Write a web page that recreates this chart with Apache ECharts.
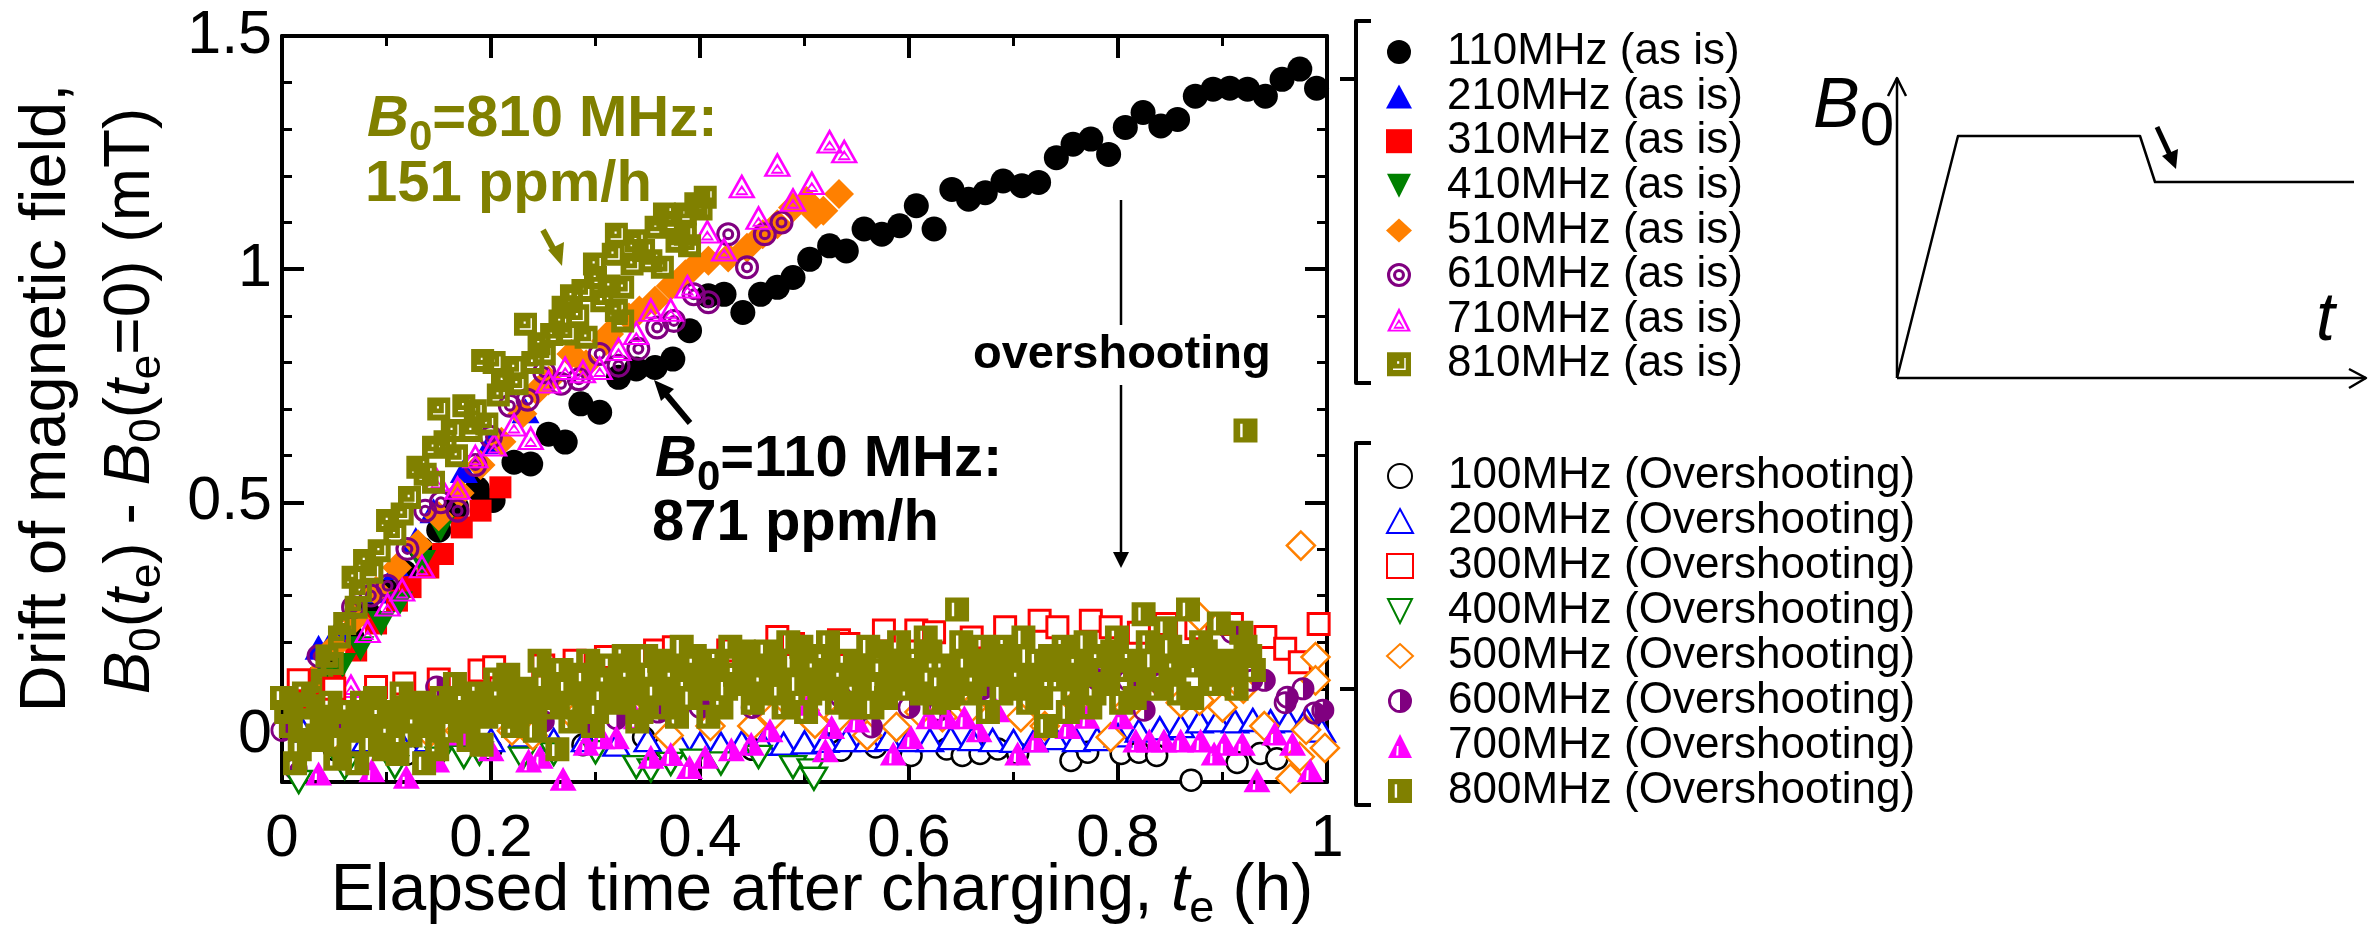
<!DOCTYPE html>
<html>
<head>
<meta charset="utf-8">
<script src="https://cdn.jsdelivr.net/npm/echarts@6/dist/echarts.min.js"></script>
<style>
html,body{margin:0;padding:0;background:#fff;}
#chart{width:2377px;height:932px;}
</style>
</head>
<body>
<div id="chart"></div>
<script>
// ---- tick labels ----
const xTicks = [0, 0.2, 0.4, 0.6, 0.8, 1];
const yTicks = [0, 0.5, 1, 1.5];

// ---- series names ----
const asIsNames = ['110MHz (as is)','210MHz (as is)','310MHz (as is)','410MHz (as is)','510MHz (as is)','610MHz (as is)','710MHz (as is)','810MHz (as is)'];
const overNames = ['100MHz (Overshooting)','200MHz (Overshooting)','300MHz (Overshooting)','400MHz (Overshooting)','500MHz (Overshooting)','600MHz (Overshooting)','700MHz (Overshooting)','800MHz (Overshooting)'];

// ---- drift after charging "as is": [t_e (h), B0(te)-B0(0) (mT)] ----
const asIs110 = [[0.017,0.06],[0.033,0.11],[0.05,0.16],[0.067,0.21],[0.083,0.26],[0.1,0.31],[0.117,0.35],[0.133,0.4],[0.15,0.44],[0.167,0.49],[0.187,0.529],[0.202,0.504],[0.222,0.586],[0.238,0.582],[0.255,0.646],[0.271,0.629],[0.286,0.711],[0.304,0.693],[0.322,0.768],[0.339,0.786],[0.357,0.789],[0.374,0.807],[0.39,0.868],[0.408,0.943],[0.423,0.946],[0.441,0.907],[0.458,0.946],[0.474,0.961],[0.489,0.982],[0.505,1.021],[0.524,1.05],[0.54,1.039],[0.557,1.086],[0.574,1.075],[0.591,1.093],[0.607,1.136],[0.624,1.086],[0.641,1.171],[0.657,1.15],[0.673,1.164],[0.69,1.189],[0.708,1.179],[0.724,1.186],[0.741,1.239],[0.757,1.268],[0.774,1.279],[0.791,1.246],[0.807,1.304],[0.824,1.336],[0.841,1.307],[0.857,1.321],[0.874,1.371],[0.891,1.386],[0.907,1.388],[0.924,1.386],[0.941,1.371],[0.957,1.407],[0.974,1.429],[0.99,1.388]];
const asIs210 = [[0.02,0.1],[0.035,0.189],[0.053,0.225],[0.07,0.27],[0.09,0.31],[0.11,0.36],[0.128,0.42],[0.145,0.482],[0.174,0.568],[0.2,0.63],[0.233,0.696]];
const asIs310 = [[0.03,0.08],[0.05,0.13],[0.071,0.182],[0.09,0.24],[0.11,0.289],[0.123,0.318],[0.14,0.36],[0.154,0.389],[0.172,0.446],[0.19,0.482],[0.209,0.532]];
const asIs410 = [[0.04,0.12],[0.058,0.15],[0.075,0.186],[0.095,0.24],[0.112,0.282],[0.134,0.371],[0.152,0.443]];
const asIs510 = [[0.03,0.12],[0.05,0.19],[0.07,0.25],[0.09,0.31],[0.11,0.36],[0.13,0.41],[0.15,0.47],[0.17,0.52],[0.19,0.58],[0.21,0.63],[0.23,0.69],[0.244,0.739],[0.255,0.761],[0.277,0.818],[0.291,0.796],[0.31,0.846],[0.313,0.861],[0.332,0.896],[0.342,0.911],[0.357,0.932],[0.372,0.964],[0.386,0.989],[0.394,1.004],[0.408,1.018],[0.427,1.025],[0.445,1.046],[0.46,1.075],[0.474,1.096],[0.489,1.132],[0.502,1.146],[0.511,1.118],[0.518,1.125],[0.533,1.161]];
const asIs610 = [[0.013,-0.071],[0.035,0.17],[0.068,0.275],[0.085,0.3],[0.101,0.321],[0.12,0.4],[0.137,0.482],[0.152,0.5],[0.168,0.482],[0.185,0.58],[0.2,0.64],[0.218,0.707],[0.235,0.72],[0.251,0.779],[0.267,0.754],[0.284,0.764],[0.304,0.818],[0.322,0.793],[0.341,0.829],[0.359,0.875],[0.375,0.889],[0.394,0.946],[0.408,0.929],[0.427,1.075],[0.445,1.004],[0.462,1.075],[0.478,1.1]];
const asIs710 = [[0.066,0.107],[0.082,0.225],[0.101,0.282],[0.115,0.314],[0.134,0.364],[0.148,0.55],[0.168,0.532],[0.185,0.6],[0.203,0.625],[0.222,0.668],[0.238,0.639],[0.255,0.76],[0.271,0.789],[0.288,0.782],[0.304,0.789],[0.322,0.83],[0.339,0.864],[0.353,0.914],[0.372,0.914],[0.388,0.964],[0.407,1.082],[0.423,1.043],[0.44,1.179],[0.456,1.111],[0.474,1.225],[0.489,1.15],[0.507,1.186],[0.524,1.275],[0.538,1.254]];
const asIs810 = [[0.004,-0.104],[0.02,0.07],[0.03,0.1],[0.038,0.118],[0.043,0.17],[0.048,0.154],[0.055,0.211],[0.06,0.24],[0.068,0.339],[0.071,0.275],[0.075,0.31],[0.079,0.375],[0.086,0.35],[0.093,0.396],[0.101,0.461],[0.108,0.432],[0.115,0.475],[0.122,0.51],[0.13,0.575],[0.137,0.56],[0.145,0.543],[0.145,0.618],[0.15,0.7],[0.156,0.63],[0.163,0.654],[0.167,0.6],[0.174,0.707],[0.181,0.654],[0.185,0.696],[0.192,0.804],[0.196,0.668],[0.203,0.8],[0.207,0.73],[0.211,0.761],[0.222,0.789],[0.225,0.754],[0.233,0.882],[0.24,0.8],[0.246,0.84],[0.251,0.818],[0.258,0.86],[0.266,0.889],[0.269,0.918],[0.273,0.861],[0.277,0.943],[0.283,0.9],[0.288,0.954],[0.291,0.854],[0.299,1.011],[0.3,0.982],[0.306,0.932],[0.313,0.964],[0.317,1.032],[0.32,1.075],[0.32,0.911],[0.326,0.961],[0.326,0.889],[0.335,1.011],[0.339,1.061],[0.346,1.04],[0.353,1.018],[0.358,1.09],[0.364,1.004],[0.366,1.118],[0.372,1.1],[0.378,1.06],[0.386,1.075],[0.386,1.118],[0.39,1.05],[0.396,1.14],[0.401,1.129],[0.405,1.154]];

// ---- drift after charging with overshooting ----
const over100 = [[0.05,-0.03],[0.12,-0.04],[0.2,-0.03],[0.288,-0.02],[0.346,-0.004],[0.366,-0.025],[0.45,-0.03],[0.526,-0.018],[0.535,-0.032],[0.568,-0.025],[0.602,-0.043],[0.636,-0.029],[0.651,-0.043],[0.668,-0.039],[0.685,-0.029],[0.704,-0.039],[0.755,-0.054],[0.771,-0.036],[0.803,-0.039],[0.82,-0.036],[0.837,-0.043],[0.87,-0.096],[0.914,-0.058],[0.936,-0.039],[0.952,-0.05]];
const over200 = [[0.02,0.01],[0.05,0.0],[0.08,-0.01],[0.11,0.0],[0.14,-0.01],[0.17,0.0],[0.2,-0.01],[0.23,0.0],[0.26,-0.01],[0.29,-0.01],[0.32,-0.02],[0.35,-0.01],[0.38,-0.018],[0.4,-0.018],[0.42,-0.018],[0.44,-0.015],[0.46,-0.018],[0.48,-0.018],[0.5,-0.015],[0.52,-0.012],[0.54,-0.01],[0.56,-0.01],[0.58,-0.008],[0.6,-0.01],[0.62,-0.01],[0.64,-0.006],[0.66,-0.008],[0.68,-0.01],[0.7,-0.012],[0.72,-0.01],[0.74,-0.006],[0.76,-0.01],[0.78,-0.008],[0.8,0.0],[0.82,0.01],[0.84,0.015],[0.86,0.02],[0.878,0.03],[0.895,0.032],[0.912,0.03],[0.929,0.033],[0.946,0.03],[0.963,0.032],[0.98,0.035],[0.995,0.01]];
const over300 = [[0.016,0.118],[0.05,0.1],[0.09,0.104],[0.117,0.111],[0.15,0.12],[0.189,0.139],[0.203,0.146],[0.25,0.15],[0.28,0.16],[0.31,0.168],[0.357,0.182],[0.375,0.189],[0.427,0.182],[0.474,0.211],[0.489,0.196],[0.533,0.204],[0.542,0.196],[0.576,0.225],[0.607,0.225],[0.624,0.221],[0.66,0.21],[0.692,0.232],[0.725,0.246],[0.742,0.232],[0.774,0.246],[0.793,0.232],[0.82,0.22],[0.846,0.239],[0.875,0.23],[0.909,0.239],[0.941,0.211],[0.96,0.186],[0.974,0.157],[0.992,0.239]];
const over400 = [[0.016,-0.1],[0.06,-0.07],[0.108,-0.068],[0.15,-0.05],[0.174,-0.046],[0.189,-0.039],[0.23,-0.05],[0.26,-0.04],[0.3,-0.036],[0.339,-0.068],[0.353,-0.075],[0.372,-0.061],[0.394,-0.054],[0.42,-0.06],[0.456,-0.046],[0.489,-0.068],[0.506,-0.075],[0.509,-0.093]];
const over500 = [[0.05,0.0],[0.141,0.004],[0.17,0.01],[0.22,0.01],[0.24,0.0],[0.28,0.039],[0.33,0.06],[0.37,0.0],[0.41,0.02],[0.45,0.02],[0.47,0.04],[0.5,0.054],[0.51,0.025],[0.533,0.039],[0.56,0.0],[0.588,0.018],[0.61,0.05],[0.632,0.039],[0.66,0.06],[0.707,0.039],[0.73,0.02],[0.76,0.07],[0.793,-0.004],[0.81,0.06],[0.817,0.089],[0.84,0.11],[0.86,0.07],[0.878,0.075],[0.878,0.254],[0.9,0.06],[0.92,0.1],[0.94,0.02],[0.965,-0.092],[0.974,-0.046],[0.975,0.407],[0.98,0.012],[0.989,0.168],[0.989,0.118],[0.998,-0.027]];
const over600 = [[0.0,0.011],[0.05,0.02],[0.148,0.104],[0.2,0.05],[0.25,0.03],[0.291,0.025],[0.32,0.036],[0.36,0.05],[0.4,0.06],[0.45,0.06],[0.535,0.082],[0.564,0.018],[0.6,0.06],[0.629,0.054],[0.67,0.1],[0.731,0.168],[0.78,0.12],[0.81,0.118],[0.825,0.054],[0.841,0.111],[0.909,0.221],[0.928,0.118],[0.94,0.118],[0.96,0.07],[0.962,0.082],[0.977,0.1],[0.988,0.048],[0.996,0.054]];
const over700 = [[0.035,-0.082],[0.086,-0.075],[0.119,-0.089],[0.148,-0.054],[0.17,0.004],[0.2,-0.03],[0.236,-0.054],[0.247,-0.046],[0.269,-0.093],[0.291,-0.018],[0.306,-0.004],[0.32,-0.004],[0.339,0.039],[0.353,-0.046],[0.372,-0.04],[0.39,-0.068],[0.405,-0.046],[0.43,-0.03],[0.449,-0.018],[0.467,0.011],[0.504,0.068],[0.52,-0.032],[0.526,0.018],[0.55,0.032],[0.585,-0.039],[0.602,-0.004],[0.619,0.039],[0.636,0.039],[0.653,0.039],[0.667,0.011],[0.684,0.054],[0.704,-0.039],[0.721,-0.011],[0.752,0.018],[0.77,0.04],[0.803,0.039],[0.817,-0.011],[0.83,-0.011],[0.844,-0.011],[0.86,-0.011],[0.879,-0.011],[0.892,-0.039],[0.902,-0.018],[0.919,-0.018],[0.933,-0.096],[0.95,0.004],[0.967,-0.018],[0.984,-0.075]];
const over800 = [[0.0,0.08],[0.004,0.05],[0.0085,0.02],[0.0125,-0.06],[0.017,-0.03],[0.021,0.09],[0.0255,0.06],[0.0295,-0.01],[0.034,0.0],[0.038,0.03],[0.0425,0.04],[0.0465,0.07],[0.051,-0.05],[0.055,-0.02],[0.0595,0.03],[0.0635,0.05],[0.068,0.01],[0.072,-0.06],[0.0765,0.07],[0.0805,0.02],[0.085,-0.02],[0.089,0.08],[0.0935,0.05],[0.0975,-0.03],[0.102,0.02],[0.106,0.04],[0.1105,-0.04],[0.1145,0.09],[0.119,0.06],[0.123,0.0],[0.1275,0.03],[0.1315,0.07],[0.136,-0.06],[0.14,0.02],[0.1445,0.04],[0.1485,-0.03],[0.153,0.08],[0.157,0.06],[0.1615,0.01],[0.1655,0.11],[0.17,0.05],[0.174,0.03],[0.1785,-0.01],[0.1825,0.07],[0.187,0.09],[0.191,-0.02],[0.1955,0.04],[0.1995,0.05],[0.204,0.12],[0.208,0.09],[0.2125,0.06],[0.2165,0.13],[0.221,0.02],[0.225,0.04],[0.2295,0.1],[0.2335,0.08],[0.238,0.05],[0.242,0.01],[0.2465,0.16],[0.2505,0.11],[0.255,0.08],[0.259,0.06],[0.2635,-0.03],[0.2675,0.14],[0.272,0.11],[0.276,0.03],[0.2805,0.06],[0.2845,0.09],[0.289,0.13],[0.293,0.16],[0.2975,0.02],[0.3015,0.05],[0.306,0.09],[0.31,0.12],[0.3145,0.15],[0.3185,0.08],[0.323,0.07],[0.327,0.17],[0.3315,0.12],[0.3355,0.1],[0.34,0.03],[0.344,0.05],[0.3485,0.17],[0.3525,0.13],[0.357,0.1],[0.361,0.16],[0.3655,0.06],[0.3695,0.09],[0.374,0.14],[0.378,0.04],[0.3825,0.19],[0.3865,0.12],[0.391,0.08],[0.395,0.17],[0.3995,0.12],[0.4035,0.1],[0.408,0.04],[0.412,0.14],[0.4165,0.16],[0.4205,0.06],[0.425,0.1],[0.429,0.19],[0.4335,0.13],[0.4375,0.11],[0.442,0.18],[0.446,0.15],[0.4505,0.07],[0.4545,0.09],[0.459,0.12],[0.463,0.18],[0.4675,0.15],[0.4715,0.13],[0.476,0.09],[0.48,0.06],[0.4845,0.2],[0.4885,0.16],[0.493,0.11],[0.497,0.19],[0.5015,0.05],[0.5055,0.09],[0.51,0.14],[0.514,0.12],[0.5185,0.17],[0.5225,0.2],[0.527,0.1],[0.531,0.07],[0.5355,0.13],[0.5395,0.16],[0.544,0.06],[0.548,0.11],[0.5525,0.15],[0.5565,0.14],[0.561,0.19],[0.565,0.06],[0.5695,0.11],[0.5735,0.18],[0.578,0.08],[0.582,0.13],[0.5865,0.16],[0.5905,0.2],[0.595,0.12],[0.599,0.1],[0.6035,0.14],[0.6075,0.16],[0.612,0.09],[0.616,0.21],[0.6205,0.18],[0.6245,0.07],[0.629,0.12],[0.633,0.15],[0.6375,0.08],[0.6415,0.12],[0.646,0.27],[0.65,0.2],[0.6545,0.15],[0.6585,0.09],[0.663,0.11],[0.667,0.16],[0.6715,0.19],[0.6755,0.05],[0.68,0.13],[0.684,0.14],[0.6885,0.09],[0.6925,0.19],[0.697,0.17],[0.701,0.1],[0.7055,0.12],[0.7095,0.21],[0.714,0.07],[0.718,0.13],[0.7225,0.16],[0.7265,0.08],[0.731,0.02],[0.735,0.17],[0.7395,0.14],[0.7435,0.12],[0.748,0.19],[0.752,0.05],[0.7565,0.1],[0.7605,0.15],[0.765,0.13],[0.769,0.2],[0.7735,0.06],[0.7775,0.09],[0.782,0.17],[0.786,0.14],[0.7905,0.11],[0.7945,0.18],[0.799,0.21],[0.803,0.07],[0.8075,0.14],[0.8115,0.16],[0.816,0.08],[0.82,0.12],[0.8245,0.26],[0.8285,0.2],[0.833,0.16],[0.837,0.1],[0.8415,0.12],[0.8455,0.23],[0.85,0.19],[0.854,0.14],[0.8585,0.09],[0.8625,0.17],[0.867,0.27],[0.871,0.08],[0.8755,0.15],[0.8795,0.2],[0.884,0.18],[0.888,0.13],[0.8925,0.11],[0.8965,0.24],[0.901,0.16],[0.905,0.15],[0.9095,0.13],[0.9135,0.1],[0.918,0.22],[0.922,0.19],[0.922,0.654],[0.9265,0.17],[0.93,0.14]];

// ---- marker shapes ----
const FONT = "'Liberation Sans', Arial, Helvetica, sans-serif";
function circ(cx, cy, r, cw) {
  const s = cw ? 1 : 0;
  return `M${cx - r} ${cy} A${r} ${r} 0 1 ${s} ${cx + r} ${cy} A${r} ${r} 0 1 ${s} ${cx - r} ${cy} Z `;
}
const SYM_RINGS = 'path://' + circ(50,50,50,true) + circ(50,50,37,false) + circ(50,50,25,true) + circ(50,50,12,false);
const SYM_HALF_CIRCLE = 'path://' + circ(50,50,50,true) + circ(50,50,38,false) + 'M50 0 A50 50 0 0 1 50 100 Z';
const SYM_TRI_IN_TRI = 'path://M50 0 L100 100 L0 100 Z M50 22 L15 92 L85 92 Z M50 46 L74 88 L26 88 Z M50 62 L36 80 L64 80 Z';
const SYM_HALF_TRI = 'path://M50 0 L100 100 L0 100 Z M37 50 L34 90 L43 90 L44 50 Z';
const SYM_SQ_DOT = 'path://M0 0 L100 0 L100 100 L0 100 Z M42 38 L42 48 L51 48 L51 38 Z M25 68 L25 74 L78 74 L78 68 Z M72 24 L72 68 L78 68 L78 24 Z';
const SYM_SQ_BAR = 'path://M0 0 L100 0 L100 100 L0 100 Z M28 22 L28 78 L38 78 L38 22 Z';
const SYM_DOWN_TRI = 'path://M0 0 L100 0 L50 100 Z';

const OLIVE = '#808000';

function sc(name, data, symbol, size, fill, stroke, bw) {
  return {
    type: 'scatter', name, data, symbol, symbolSize: size,
    xAxisIndex: 0, yAxisIndex: 0,
    itemStyle: { color: fill, borderColor: stroke || fill, borderWidth: bw || 0, opacity: 1 },
    emphasis: { disabled: true }, silent: true, animation: false
  };
}

const series = [
  sc(asIsNames[0], asIs110, 'circle', 25, '#000'),
  sc(asIsNames[1], asIs210, 'triangle', [28, 25], '#0000ff'),
  sc(asIsNames[2], asIs310, 'rect', 22, '#ff0000'),
  sc(asIsNames[3], asIs410, SYM_DOWN_TRI, [28, 25], '#008000'),
  sc(asIsNames[4], asIs510, 'diamond', 30, '#ff8000'),
  sc(asIsNames[5], asIs610, SYM_RINGS, 24, '#800080'),
  sc(asIsNames[6], asIs710, SYM_TRI_IN_TRI, [28, 25], '#ff00ff'),
  sc(asIsNames[7], asIs810, SYM_SQ_DOT, 23, OLIVE),
  sc(overNames[0], over100, 'circle', 21, '#fff', '#000', 2.5),
  sc(overNames[1], over200, 'triangle', [26, 22], '#fff', '#0000ff', 2.5),
  sc(overNames[2], over300, 'rect', 21, '#fff', '#ff0000', 3),
  sc(overNames[3], over400, SYM_DOWN_TRI, [26, 22], '#fff', '#008000', 2.5),
  sc(overNames[4], over500, 'diamond', 28, '#fff', '#ff8000', 2.5),
  sc(overNames[5], over600, SYM_HALF_CIRCLE, 23, '#800080'),
  sc(overNames[6], over700, SYM_HALF_TRI, [27, 24], '#ff00ff'),
  sc(overNames[7], over800, SYM_SQ_BAR, 24, OLIVE)
];

const axisLineStyle = { color: '#000', width: 4 };
function xAx(pos, labels) {
  return {
    type: 'value', position: pos, min: 0, max: 1, interval: 0.2,
    axisLine: { show: true, onZero: false, lineStyle: axisLineStyle },
    axisTick: { show: true, inside: true, length: 22, lineStyle: { color: '#000', width: 4 } },
    minorTick: { show: true, splitNumber: 2, length: 10, lineStyle: { color: '#000', width: 3 } },
    axisLabel: { show: labels, fontSize: 60, fontFamily: FONT, color: '#000', margin: 27,
      formatter: v => String(xTicks.find(t => Math.abs(t - v) < 1e-9) ?? '') },
    splitLine: { show: false }, minorSplitLine: { show: false }
  };
}
function yMajor(pos, labels) {
  return {
    type: 'value', position: pos, min: -0.1, max: 1.5,
    axisLine: { show: true, onZero: false, lineStyle: axisLineStyle },
    axisTick: { show: true, inside: true, length: 22, customValues: yTicks, lineStyle: { color: '#000', width: 4 } },
    axisLabel: { show: labels, customValues: yTicks, fontSize: 61, fontFamily: FONT, color: '#000', margin: 10 },
    splitLine: { show: false }
  };
}
function yMinor(pos) {
  return {
    type: 'value', position: pos, min: -0.1, max: 1.5, interval: 0.1,
    axisLine: { show: false, onZero: false },
    axisTick: { show: true, inside: true, length: 10, lineStyle: { color: '#000', width: 3 } },
    axisLabel: { show: false }, splitLine: { show: false }
  };
}

const legendBase = {
  orient: 'vertical', left: 1386, itemWidth: 26, itemHeight: 24, padding: 0,
  selectedMode: false, inactiveColor: '#000',
  textStyle: { fontSize: 44, fontFamily: FONT, color: '#000', padding: [0, 0, 0, 30] }
};
const legendItems = names => names.map(n => (n.startsWith('4') ? { name: n, icon: SYM_DOWN_TRI } : { name: n }));

// rich text pieces (subscripts sit lower through a shorter, bottom-aligned box)
const subRich = {
  i: { fontStyle: 'italic', fontSize: 64, fontFamily: FONT, lineHeight: 78 },
  s: { fontSize: 44, fontFamily: FONT, lineHeight: 44, verticalAlign: 'bottom' }
};
const titleRich = {
  i: { fontStyle: 'italic', fontSize: 66, fontFamily: FONT, lineHeight: 80 },
  s: { fontSize: 45, fontFamily: FONT, lineHeight: 45, verticalAlign: 'bottom' }
};
function annot(x, y, text, color, size) {
  return {
    type: 'text', x, y, silent: true,
    style: {
      text, fill: color, fontSize: size, fontWeight: 'bold', fontFamily: FONT,
      align: 'left', verticalAlign: 'middle', textAlign: 'left', textVerticalAlign: 'middle', lineHeight: 78,
      rich: {
        i: { fontStyle: 'italic', fontWeight: 'bold', fontSize: size, fontFamily: FONT, fill: color, lineHeight: 78 },
        s: { fontWeight: 'bold', fontSize: 42, fontFamily: FONT, fill: color, lineHeight: 42, verticalAlign: 'bottom' }
      }
    }
  };
}
function poly(points, w, extra) {
  return Object.assign({ type: 'polyline', silent: true, shape: { points },
    style: { stroke: '#000', lineWidth: w, fill: null, lineJoin: 'round', lineCap: 'butt' } }, extra || {});
}
function tri(points, color) {
  return { type: 'polygon', silent: true, shape: { points }, style: { fill: color, stroke: null } };
}

const graphics = [
  // y axis title (two lines)
  { type: 'text', x: 47, y: 398, rotation: Math.PI / 2, silent: true,
    style: { text: 'Drift of magnetic field,', fontSize: 65, fontFamily: FONT, fill: '#000',
      align: 'center', verticalAlign: 'middle', textAlign: 'center', textVerticalAlign: 'middle' } },
  { type: 'text', x: 131, y: 401, rotation: Math.PI / 2, silent: true,
    style: { text: '{i|B}{s|0}({i|t}{s|e}) - {i|B}{s|0}({i|t}{s|e}=0) (mT)', fontSize: 64, fontFamily: FONT, fill: '#000',
      lineHeight: 78, align: 'center', verticalAlign: 'middle', textAlign: 'center', textVerticalAlign: 'middle', rich: subRich } },
  // x axis title
  { type: 'text', x: 822, y: 892, silent: true,
    style: { text: 'Elapsed time after charging, {i|t}{s|e} (h)', fontSize: 66, fontFamily: FONT, fill: '#000',
      lineHeight: 80, align: 'center', verticalAlign: 'middle', textAlign: 'center', textVerticalAlign: 'middle', rich: titleRich } },
  // annotations
  annot(367, 120, '{i|B}{s|0}=810 MHz:', OLIVE, 58),
  annot(365, 185, '151 ppm/h', OLIVE, 58),
  annot(655, 460, '{i|B}{s|0}=110 MHz:', '#000', 58),
  annot(652, 524, '871 ppm/h', '#000', 58),
  annot(973, 355, 'overshooting', '#000', 47),
  // olive pointer
  poly([[543, 230], [555, 252]], 6, { style: { stroke: OLIVE, lineWidth: 6, fill: null } }),
  tri([[548, 250], [564, 242], [562, 266]], OLIVE),
  // black pointer
  poly([[690, 423], [665, 393]], 6),
  tri([[654, 380], [674, 389], [661, 401]], '#000'),
  // overshooting arrow
  poly([[1121, 200], [1121, 325]], 2.5),
  poly([[1121, 385], [1121, 555]], 2.5),
  tri([[1113, 552], [1129, 552], [1121, 568]], '#000'),
  // legend brackets
  poly([[1371, 21], [1356, 21], [1356, 383], [1371, 383]], 4),
  poly([[1340, 79], [1356, 79]], 4),
  poly([[1371, 443], [1356, 443], [1356, 805], [1371, 805]], 4),
  poly([[1340, 689], [1356, 689]], 4),
  // inset: B0 vs t sketch
  poly([[1897, 378], [1897, 78]], 2.5),
  poly([[1888, 96], [1897, 78], [1906, 96]], 2.5),
  poly([[1897, 378], [2366, 378]], 2.5),
  poly([[2349, 369], [2366, 378], [2349, 388]], 2.5),
  poly([[1897, 378], [1943, 195], [1958, 136], [2140, 136], [2155, 182], [2354, 182]], 2.5),
  poly([[2157, 127], [2170, 155]], 5),
  tri([[2162, 156], [2178, 149], [2176, 169]], '#000'),
  { type: 'text', x: 1813, y: 108, silent: true,
    style: { text: '{i|B}{s|0}', fontSize: 70, fontFamily: FONT, fill: '#000', align: 'left', verticalAlign: 'middle',
      textAlign: 'left', textVerticalAlign: 'middle', lineHeight: 102,
      rich: { i: { fontStyle: 'italic', fontSize: 70, fontFamily: FONT, lineHeight: 102 },
              s: { fontSize: 62, fontFamily: FONT, lineHeight: 62, verticalAlign: 'bottom' } } } },
  { type: 'text', x: 2316, y: 321, silent: true,
    style: { text: 't', fontSize: 68, fontStyle: 'italic', fontFamily: FONT, fill: '#000', align: 'left', verticalAlign: 'middle',
      textAlign: 'left', textVerticalAlign: 'middle' } }
];

const chart = echarts.init(document.getElementById('chart'), null, { renderer: 'canvas' });
chart.setOption({
  backgroundColor: '#fff',
  animation: false,
  grid: { left: 282, top: 36, width: 1045, height: 746, containLabel: false },
  xAxis: [xAx('bottom', true), xAx('top', false)],
  yAxis: [yMajor('left', true), yMinor('left'), yMajor('right', false), yMinor('right')],
  legend: [
    Object.assign({}, legendBase, { top: 30, itemGap: 0.6, data: legendItems(asIsNames) }),
    Object.assign({}, legendBase, { top: 454, itemGap: 1, data: legendItems(overNames) })
  ],
  series,
  graphic: graphics
});
</script>
</body>
</html>
